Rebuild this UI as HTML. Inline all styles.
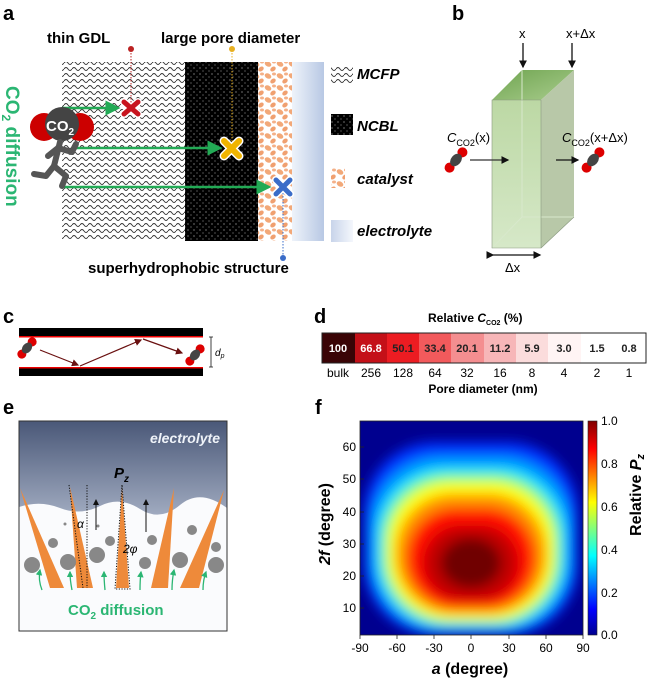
<!DOCTYPE html>
<html><head><meta charset="utf-8"><style>
html,body{margin:0;padding:0;background:#fff;}
svg{display:block;font-family:"Liberation Sans",Arial,sans-serif;}
</style></head><body>
<svg width="649" height="685" viewBox="0 0 649 685" xmlns="http://www.w3.org/2000/svg">
<defs>
  <pattern id="wave" width="8" height="6" patternUnits="userSpaceOnUse">
    <path d="M0,3 Q2,0 4,3 T8,3" fill="none" stroke="#333" stroke-width="0.9"/>
  </pattern>
  <pattern id="dots" width="6" height="6" patternUnits="userSpaceOnUse">
    <rect width="6" height="6" fill="#000"/>
    <circle cx="2" cy="2" r="0.6" fill="#bbb"/><circle cx="5" cy="5" r="0.6" fill="#888"/>
  </pattern>
  <pattern id="cat" width="12" height="12" patternUnits="userSpaceOnUse">
    <rect width="12" height="12" fill="#fff"/>
    <ellipse cx="4" cy="4" rx="3.5" ry="2.5" fill="#f2a878" transform="rotate(30 4 4)"/>
    <ellipse cx="9" cy="9" rx="3" ry="2.2" fill="#f0a070" transform="rotate(-40 9 9)"/>
    <ellipse cx="10" cy="2" rx="2" ry="1.5" fill="#f4b088"/>
  </pattern>
  <linearGradient id="elec" x1="0" x2="1"><stop offset="0" stop-color="#eef3fa"/><stop offset="1" stop-color="#b8c8e4"/></linearGradient>
  <linearGradient id="elec2" x1="0" x2="1"><stop offset="0" stop-color="#c8d4ea"/><stop offset="1" stop-color="#f4f7fc"/></linearGradient>
  <linearGradient id="front" x1="0" y1="0" x2="0" y2="1"><stop offset="0" stop-color="#bcd8a4"/><stop offset="1" stop-color="#d6e8c8"/></linearGradient>
  <linearGradient id="topf" x1="0" y1="0" x2="1" y2="1"><stop offset="0" stop-color="#6fa450"/><stop offset="1" stop-color="#a8cc8c"/></linearGradient>
  <linearGradient id="esky" x1="0" y1="0" x2="0" y2="1"><stop offset="0" stop-color="#4a5878"/><stop offset="0.5" stop-color="#aab4c8"/><stop offset="1" stop-color="#f4f6fa"/></linearGradient>
  <linearGradient id="cbar" x1="0" y1="1" x2="0" y2="0">
    <stop offset="0" stop-color="#00008f"/><stop offset="0.12" stop-color="#0000ff"/><stop offset="0.37" stop-color="#00ffff"/><stop offset="0.62" stop-color="#ffff00"/><stop offset="0.87" stop-color="#ff0000"/><stop offset="1" stop-color="#800000"/>
  </linearGradient>
  <filter id="bl" x="-20%" y="-20%" width="140%" height="140%"><feGaussianBlur stdDeviation="6"/></filter>
  <clipPath id="pc"><rect x="360" y="421" width="223" height="214"/></clipPath>
  <marker id="ag" markerWidth="6" markerHeight="6" refX="5" refY="3" orient="auto"><path d="M0,0 L6,3 L0,6z" fill="#22aa55"/></marker>
  <marker id="ak" markerWidth="6" markerHeight="6" refX="5" refY="3" orient="auto"><path d="M0,0 L6,3 L0,6z" fill="#111"/></marker>
  <marker id="ar" markerWidth="6" markerHeight="6" refX="5" refY="3" orient="auto"><path d="M0,0 L6,3 L0,6z" fill="#6a1010"/></marker>
  <marker id="agr" markerWidth="5" markerHeight="5" refX="4" refY="2.5" orient="auto"><path d="M0,0 L5,2.5 L0,5z" fill="#2bb673"/></marker>
</defs>

<!-- Panel a -->
<text x="3" y="20" font-size="20" font-weight="bold">a</text>
<text x="47" y="43" font-size="15" font-weight="bold">thin GDL</text>
<text x="161" y="43" font-size="15" font-weight="bold">large pore diameter</text>
<rect x="62" y="62" width="123" height="179" fill="url(#wave)"/>
<rect x="185" y="62" width="73" height="179" fill="url(#dots)"/>
<rect x="258" y="62" width="34" height="179" fill="url(#cat)"/>
<rect x="292" y="62" width="32" height="179" fill="url(#elec)"/>
<line x1="131" y1="50" x2="131" y2="105" stroke="#b22" stroke-dasharray="1.5,1.5"/>
<circle cx="131" cy="49" r="3" fill="#b22"/>
<line x1="232" y1="50" x2="232" y2="145" stroke="#e8b020" stroke-dasharray="1.5,1.5"/>
<circle cx="232" cy="49" r="3" fill="#e8b020"/>
<line x1="283" y1="190" x2="283" y2="258" stroke="#3a6cc8" stroke-dasharray="1.5,1.5"/>
<circle cx="283" cy="258" r="3" fill="#3a6cc8"/>
<line x1="62" y1="108" x2="118" y2="108" stroke="#22aa55" stroke-width="2.5" marker-end="url(#ag)"/>
<line x1="75" y1="148" x2="220" y2="148" stroke="#22aa55" stroke-width="2.5" marker-end="url(#ag)"/>
<line x1="62" y1="187" x2="269" y2="187" stroke="#22aa55" stroke-width="2.5" marker-end="url(#ag)"/>
<g stroke-linecap="round" stroke-width="5">
 <path d="M124,102 L138,114 M138,102 L124,114" stroke="#fff" stroke-width="8"/><path d="M124,102 L138,114 M138,102 L124,114" stroke="#c8141e"/>
 <path d="M224,141 L239,156 M239,141 L224,156" stroke="#fff" stroke-width="9"/><path d="M224,141 L239,156 M239,141 L224,156" stroke="#f0b400" stroke-width="6"/>
 <path d="M276,180 L290,194 M290,180 L276,194" stroke="#fff" stroke-width="8"/><path d="M276,180 L290,194 M290,180 L276,194" stroke="#3a6cc8"/>
</g>
<!-- CO2 runner -->
<circle cx="44" cy="127" r="14" fill="#c00"/>
<circle cx="80" cy="127" r="14" fill="#c00"/>
<circle cx="62" cy="124" r="17" fill="#444"/>
<text x="46" y="131" font-size="15" fill="#fff" font-weight="bold">CO<tspan font-size="10" dy="4">2</tspan></text>
<g stroke="#555" stroke-width="6" fill="none" stroke-linecap="round" stroke-linejoin="round">
 <path d="M60,142 L54,166"/><path d="M58,148 L72,152 L76,144"/><path d="M58,148 L48,156"/>
 <path d="M54,166 L66,176 L62,186"/><path d="M54,166 L46,176 L34,174"/>
</g>
<text transform="translate(6,86) rotate(90)" font-size="19" font-weight="bold" fill="#2bb673">CO<tspan font-size="12" dy="4">2</tspan><tspan dy="-4"> diffusion</tspan></text>
<!-- legend -->
<rect x="331" y="65" width="22" height="18" fill="url(#wave)"/>
<text x="357" y="79" font-size="15" font-weight="bold" font-style="italic">MCFP</text>
<rect x="331" y="114" width="22" height="21" fill="url(#dots)"/>
<text x="357" y="131" font-size="15" font-weight="bold" font-style="italic">NCBL</text>
<rect x="331" y="168" width="14" height="20" fill="url(#cat)"/>
<text x="357" y="184" font-size="15" font-weight="bold" font-style="italic">catalyst</text>
<rect x="331" y="220" width="22" height="22" fill="url(#elec2)"/>
<text x="357" y="236" font-size="15" font-weight="bold" font-style="italic">electrolyte</text>
<text x="88" y="273" font-size="15" font-weight="bold">superhydrophobic structure</text>

<!-- Panel b -->
<text x="452" y="20" font-size="20" font-weight="bold">b</text>
<text x="519" y="38" font-size="13">x</text>
<text x="566" y="38" font-size="13">x+Δx</text>
<line x1="523" y1="43" x2="523" y2="67" stroke="#111" stroke-width="1.3" marker-end="url(#ak)"/>
<line x1="572" y1="43" x2="572" y2="67" stroke="#111" stroke-width="1.3" marker-end="url(#ak)"/>
<polygon points="492,100 522,70 574,70 541,100" fill="url(#topf)"/>
<polygon points="541,100 574,70 574,217 541,248" fill="#b8c8a8"/>
<rect x="492" y="100" width="49" height="148" fill="url(#front)"/>
<path d="M522,70 L522,217 L574,217 M522,217 L492,248" stroke="#d8e8cc" fill="none"/>
<path d="M492,100 L492,248 L541,248 L541,100 Z M541,248 L574,217" stroke="#8a9a80" fill="none" stroke-width="0.6"/>
<line x1="493" y1="255" x2="540" y2="255" stroke="#111" stroke-width="1.3" marker-end="url(#ak)" marker-start="url(#ak)"/>
<text x="505" y="272" font-size="13">Δx</text>
<text x="447" y="142" font-size="13" font-style="italic">C<tspan font-size="9" dy="4" font-style="normal">CO2</tspan><tspan dy="-4" font-style="normal">(x)</tspan></text>
<text x="562" y="142" font-size="13" font-style="italic">C<tspan font-size="9" dy="4" font-style="normal">CO2</tspan><tspan dy="-4" font-style="normal">(x+Δx)</tspan></text>
<g transform="rotate(-50 456 160)"><circle cx="446" cy="160" r="5" fill="#d00"/><circle cx="466" cy="160" r="5" fill="#d00"/><ellipse cx="456" cy="160" rx="7" ry="5" fill="#444"/></g>
<g transform="rotate(-50 593 160)"><circle cx="583" cy="160" r="5" fill="#d00"/><circle cx="603" cy="160" r="5" fill="#d00"/><ellipse cx="593" cy="160" rx="7" ry="5" fill="#444"/></g>
<line x1="470" y1="160" x2="508" y2="160" stroke="#333" stroke-width="1.3" marker-end="url(#ak)"/>
<line x1="556" y1="160" x2="578" y2="160" stroke="#111" stroke-width="1.3" marker-end="url(#ak)"/>

<!-- Panel c -->
<text x="3" y="323" font-size="20" font-weight="bold">c</text>
<rect x="19" y="328" width="184" height="9" fill="#000"/><rect x="19" y="336" width="184" height="1.5" fill="#e00"/>
<rect x="19" y="367" width="184" height="9" fill="#000"/><rect x="19" y="367" width="184" height="1.5" fill="#e00"/>
<path d="M209,337 h4 M211,337 V367 M209,367 h4" stroke="#111" stroke-width="0.8" fill="none"/>
<text x="215" y="356" font-size="10" font-style="italic">d<tspan font-size="7" dy="2">p</tspan></text>
<g stroke="#6a1010" stroke-width="1.2" fill="none">
 <line x1="40" y1="350" x2="78" y2="365" marker-end="url(#ar)"/>
 <line x1="80" y1="366" x2="141" y2="340" marker-end="url(#ar)"/>
 <line x1="143" y1="339" x2="182" y2="353" marker-end="url(#ar)"/>
</g>
<g transform="rotate(-50 27 348)"><circle cx="19" cy="348" r="4.5" fill="#d00"/><circle cx="35" cy="348" r="4.5" fill="#d00"/><ellipse cx="27" cy="348" rx="6" ry="4.5" fill="#444"/></g>
<g transform="rotate(-50 195 355)"><circle cx="187" cy="355" r="4.5" fill="#d00"/><circle cx="203" cy="355" r="4.5" fill="#d00"/><ellipse cx="195" cy="355" rx="6" ry="4.5" fill="#444"/></g>

<!-- Panel d -->
<text x="314" y="323" font-size="20" font-weight="bold">d</text>
<text x="428" y="322" font-size="12" font-weight="bold">Relative <tspan font-style="italic">C</tspan><tspan font-size="7" dy="3">CO2</tspan><tspan dy="-3"> (%)</tspan></text>
<g font-size="11" font-weight="bold" text-anchor="middle">
<rect x="322" y="333" width="33" height="30" fill="#3a0406"/><text x="338" y="352" fill="#fff">100</text>
<rect x="355" y="333" width="32" height="30" fill="#c41018"/><text x="371" y="352" fill="#fff">66.8</text>
<rect x="387" y="333" width="32" height="30" fill="#ec1c22"/><text x="403" y="352" fill="#222">50.1</text>
<rect x="419" y="333" width="32" height="30" fill="#f25a5c"/><text x="435" y="352" fill="#222">33.4</text>
<rect x="451" y="333" width="33" height="30" fill="#f48e90"/><text x="467" y="352" fill="#222">20.1</text>
<rect x="484" y="333" width="32" height="30" fill="#f7b6b8"/><text x="500" y="352" fill="#222">11.2</text>
<rect x="516" y="333" width="32" height="30" fill="#fbdcdc"/><text x="532" y="352" fill="#222">5.9</text>
<rect x="548" y="333" width="33" height="30" fill="#fff4f4"/><text x="564" y="352" fill="#222">3.0</text>
<rect x="581" y="333" width="32" height="30" fill="#fff"/><text x="597" y="352" fill="#222">1.5</text>
<rect x="613" y="333" width="33" height="30" fill="#fff"/><text x="629" y="352" fill="#222">0.8</text>
</g>
<rect x="322" y="333" width="324" height="30" fill="none" stroke="#222" stroke-width="1"/>
<g font-size="12" text-anchor="middle">
<text x="338" y="377">bulk</text><text x="371" y="377">256</text><text x="403" y="377">128</text><text x="435" y="377">64</text><text x="467" y="377">32</text><text x="500" y="377">16</text><text x="532" y="377">8</text><text x="564" y="377">4</text><text x="597" y="377">2</text><text x="629" y="377">1</text>
</g>
<text x="483" y="393" font-size="12" font-weight="bold" text-anchor="middle">Pore diameter (nm)</text>

<!-- Panel e -->
<text x="3" y="414" font-size="20" font-weight="bold">e</text>
<rect x="19" y="421" width="208" height="210" fill="url(#esky)"/>
<path d="M19,507 Q40,500 60,508 T100,506 T140,509 T180,505 T227,508 V631 H19Z" fill="#fafbfd"/>
<text x="220" y="443" font-size="14" font-weight="bold" font-style="italic" fill="#eef2f8" text-anchor="end">electrolyte</text>
<g fill="#ee8a3a">
 <polygon points="20,488 50,588 64,588"/>
 <polygon points="70,487 77,588 93,588"/>
 <polygon points="122,487 116,588 129,588"/>
 <polygon points="174,488 151,588 168,588"/>
 <polygon points="224,490 180,588 199,588"/>
</g>
<g stroke="#111" stroke-dasharray="1.2,1.5" fill="none" stroke-width="1">
 <path d="M69,485 L83,588 M87,485 L87,588"/>
 <path d="M122,485 L115,589 H130 Z"/>
</g>
<line x1="96" y1="530" x2="96" y2="500" stroke="#111" stroke-width="1" marker-end="url(#ak)"/>
<line x1="146" y1="532" x2="146" y2="500" stroke="#111" stroke-width="1" marker-end="url(#ak)"/>
<text x="114" y="478" font-size="15" font-weight="bold" font-style="italic">P<tspan font-size="10" dy="4">z</tspan></text>
<text x="77" y="528" font-size="12" font-style="italic">α</text>
<text x="123" y="553" font-size="12" font-style="italic">2φ</text>
<g fill="#888">
 <circle cx="32" cy="565" r="8"/><circle cx="68" cy="562" r="8"/><circle cx="97" cy="555" r="8"/><circle cx="145" cy="563" r="6"/><circle cx="180" cy="560" r="8"/><circle cx="216" cy="565" r="8"/>
 <circle cx="53" cy="543" r="5"/><circle cx="110" cy="541" r="5"/><circle cx="152" cy="540" r="5"/><circle cx="192" cy="530" r="5"/><circle cx="216" cy="547" r="5"/><circle cx="65" cy="524" r="1.5"/><circle cx="98" cy="526" r="1.5"/>
</g>
<g stroke="#2bb673" stroke-width="1.3" fill="none">
 <path d="M42,590 Q38,580 40,570" marker-end="url(#agr)"/><path d="M72,590 Q70,580 70,572" marker-end="url(#agr)"/>
 <path d="M105,590 Q104,580 104,572" marker-end="url(#agr)"/><path d="M140,590 Q140,580 141,572" marker-end="url(#agr)"/>
 <path d="M172,590 Q172,580 174,570" marker-end="url(#agr)"/><path d="M203,590 Q203,580 206,572" marker-end="url(#agr)"/>
</g>
<text x="68" y="615" font-size="15" font-weight="bold" fill="#2bb673">CO<tspan font-size="10" dy="4">2</tspan><tspan dy="-4"> diffusion</tspan></text>
<rect x="19" y="421" width="208" height="210" fill="none" stroke="#333" stroke-width="1"/>

<!-- Panel f -->
<text x="315" y="414" font-size="20" font-weight="bold">f</text>
<g clip-path="url(#pc)">
 <rect x="360" y="421" width="223" height="214" fill="#00008f"/>
 <g filter="url(#bl)">
  <rect x="364" y="442" width="214" height="193" rx="70" fill="#0030ff"/>
  <rect x="370" y="455" width="202" height="176" rx="70" fill="#0090ff"/>
  <rect x="376" y="466" width="190" height="162" rx="68" fill="#00e0ff"/>
  <rect x="382" y="474" width="178" height="150" rx="66" fill="#80ff80"/>
  <rect x="388" y="482" width="166" height="138" rx="62" fill="#ffff00"/>
  <rect x="396" y="494" width="150" height="120" rx="58" fill="#ff9000"/>
  <rect x="407" y="508" width="128" height="100" rx="50" fill="#ff1000"/>
  <rect x="424" y="526" width="94" height="74" rx="37" fill="#c00000"/>
  <ellipse cx="471" cy="563" rx="30" ry="25" fill="#700000"/>
 </g>
</g>
<rect x="360" y="421" width="223" height="214" fill="none" stroke="#222" stroke-width="0.8"/>
<g stroke="#222" stroke-width="0.8">
 <line x1="360" y1="447" x2="364" y2="447"/><line x1="360" y1="479" x2="364" y2="479"/><line x1="360" y1="512" x2="364" y2="512"/><line x1="360" y1="544" x2="364" y2="544"/><line x1="360" y1="576" x2="364" y2="576"/><line x1="360" y1="608" x2="364" y2="608"/>
 <line x1="360" y1="635" x2="360" y2="639"/><line x1="397" y1="635" x2="397" y2="639"/><line x1="434" y1="635" x2="434" y2="639"/><line x1="471" y1="635" x2="471" y2="639"/><line x1="509" y1="635" x2="509" y2="639"/><line x1="546" y1="635" x2="546" y2="639"/><line x1="583" y1="635" x2="583" y2="639"/>
</g>
<g font-size="12" text-anchor="end">
 <text x="356" y="451">60</text><text x="356" y="483">50</text><text x="356" y="516">40</text><text x="356" y="548">30</text><text x="356" y="580">20</text><text x="356" y="612">10</text>
</g>
<g font-size="12" text-anchor="middle">
 <text x="360" y="652">-90</text><text x="397" y="652">-60</text><text x="434" y="652">-30</text><text x="471" y="652">0</text><text x="509" y="652">30</text><text x="546" y="652">60</text><text x="583" y="652">90</text>
</g>
<text x="470" y="674" font-size="16" font-weight="bold" text-anchor="middle"><tspan font-style="italic">a</tspan> (degree)</text>
<text transform="translate(330,524) rotate(-90)" font-size="16" font-weight="bold" text-anchor="middle"><tspan font-style="italic">2f</tspan>  (degree)</text>
<rect x="588" y="421" width="9" height="214" fill="url(#cbar)" stroke="#222" stroke-width="0.6"/>
<g font-size="12">
 <text x="601" y="425">1.0</text><text x="601" y="468">0.8</text><text x="601" y="511">0.6</text><text x="601" y="554">0.4</text><text x="601" y="597">0.2</text><text x="601" y="639">0.0</text>
</g>
<text transform="translate(641,495) rotate(-90)" font-size="16" font-weight="bold" text-anchor="middle">Relative <tspan font-style="italic">P<tspan font-size="11" dy="3">z</tspan></tspan></text>
</svg>
</body></html>
